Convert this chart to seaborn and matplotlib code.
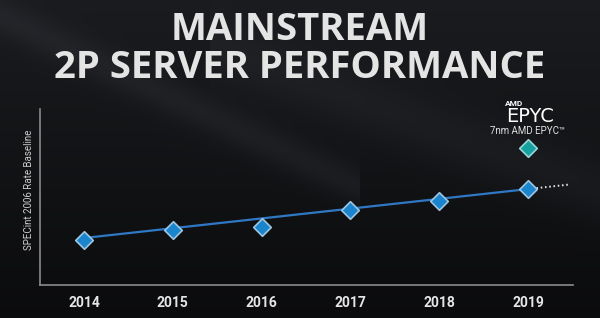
import numpy as np
import pandas as pd
import matplotlib
matplotlib.use("Agg")
import matplotlib.pyplot as plt
import seaborn as sns

# ---- data ----
years = [2014, 2015, 2016, 2017, 2018, 2019]
perf = [25.6, 31.3, 33.0, 42.6, 47.7, 54.5]
trend_years = [2014, 2019]
trend_vals = [26.7, 54.5]
proj_years = [2019, 2019.45]
proj_vals = [54.5, 57.0]
epyc_year = [2019]
epyc_val = [77.8]
title_lines = ["MAINSTREAM", "2P SERVER PERFORMANCE"]
y_label = "SPECint 2006 Rate Baseline"
epyc_label = "7nm AMD EPYC\u2122"

sns.set_theme(style="dark")
plt.rcParams['font.family'] = ['Roboto', 'DejaVu Sans']

fig = plt.figure(figsize=(6, 3.18), dpi=100)
fig.patch.set_facecolor("#0c0d11")

# background gradient
bg = fig.add_axes([0, 0, 1, 1], zorder=0)
gy, gx = np.mgrid[0:1:318j, 0:1:600j]
base = 0.045 + 0.07 * (1 - gy) * 0.9
streak = 0.04 * np.exp(-((gy - (0.05 + 0.9 * gx)) ** 2) / 0.004) * (gx < 0.6)
streak2 = 0.03 * np.exp(-((gy - 0.25 - 0.7 * (gx - 0.5)) ** 2) / 0.01) * (gx > 0.35)
val = base + streak + streak2
img = np.dstack([val * 0.95, val * 1.0, val * 1.12])
bg.imshow(np.clip(img, 0, 1), aspect="auto", extent=[0, 1, 0, 1], origin="upper")
bg.set_axis_off()

ax = fig.add_axes([40 / 600, 33 / 318, 533 / 600, 176 / 318], zorder=1)
ax.patch.set_alpha(0)

df_trend = pd.DataFrame({"year": trend_years, "val": trend_vals})
sns.lineplot(data=df_trend, x="year", y="val", ax=ax, color="#2f78c4", lw=1.6)
ax.plot(proj_years, proj_vals, color="#e8e8e8", lw=1.4, ls=(0, (0.8, 1.4)))

df_pts = pd.DataFrame({"year": years, "perf": perf})
sns.scatterplot(data=df_pts, x="year", y="perf", ax=ax, marker="D", s=80,
                color="#1a85cc", edgecolor="#9fc6e0", linewidth=1.2, zorder=5)
df_e = pd.DataFrame({"year": epyc_year, "val": epyc_val})
sns.scatterplot(data=df_e, x="year", y="val", ax=ax, marker="D", s=80,
                color="#16a0a0", edgecolor="#9ad6d6", linewidth=1.2, zorder=5)

ax.set_xlim(2013.505, 2019.507)
ax.set_ylim(0, 100)
ax.set_xticks(years)
ax.set_xticklabels([str(y) for y in years], color="#e6e6e6", fontsize=10,
                   fontweight="bold")
ax.tick_params(axis="x", length=0, pad=8)
ax.set_yticks([])
ax.set_xlabel("")
ax.set_ylabel(y_label, color="#cfcfcf", fontsize=7)
ax.yaxis.set_label_coords(-0.012, 0.54)
for s in ["top", "right"]:
    ax.spines[s].set_visible(False)
for s in ["left", "bottom"]:
    ax.spines[s].set_visible(True)
    ax.spines[s].set_color("#8a8a8a")
    ax.spines[s].set_linewidth(1.2)
ax.grid(False)

# title
fig.text(0.5, 1 - 30 / 318, title_lines[0], ha="center", va="center",
         color="#e4e4e4", fontsize=27.5, fontweight="bold", family="Open Sans")
fig.text(0.5, 1 - 68 / 318, title_lines[1], ha="center", va="center",
         color="#e4e4e4", fontsize=27.5, fontweight="bold", family="Open Sans")

# EPYC logo text
fig.text(505 / 600, 1 - 103 / 318, "AMD", ha="left", va="center",
         color="white", fontsize=6, fontweight="bold")
fig.text(530 / 600, 1 - 117 / 318, "EPYC", ha="center", va="center",
         color="white", fontsize=14, family="DejaVu Sans")
fig.text(528 / 600, 1 - 131 / 318, epyc_label, ha="center", va="center",
         color="#e0e0e0", fontsize=7)

fig.savefig("out.png", dpi=100, facecolor=fig.get_facecolor())
